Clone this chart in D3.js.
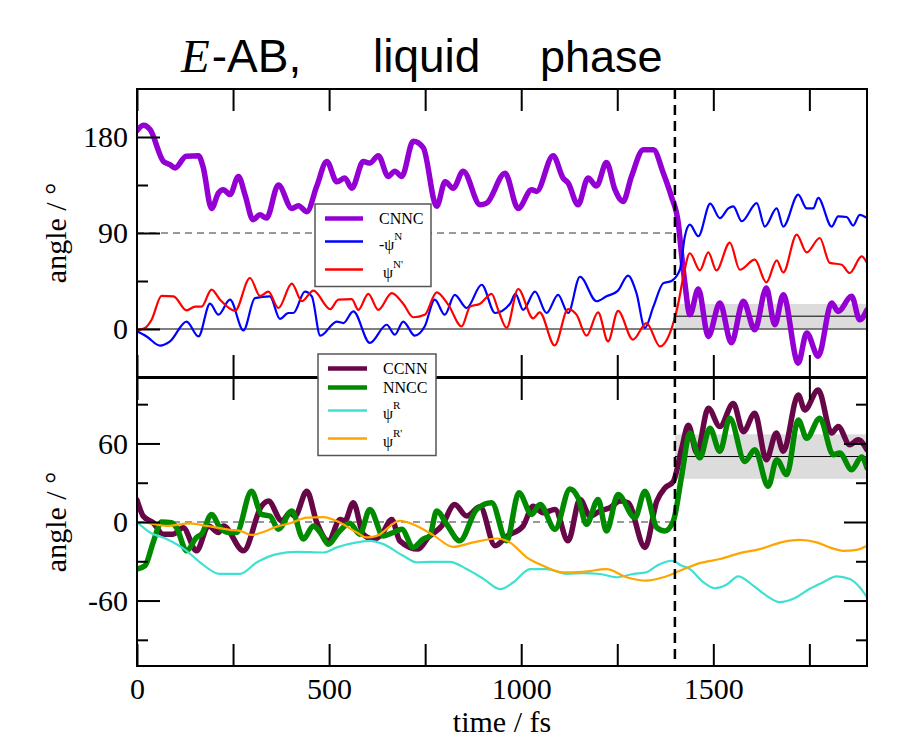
<!DOCTYPE html>
<html>
<head>
<meta charset="utf-8">
<script src="https://cdn.jsdelivr.net/npm/d3@7"></script>
<style>
  body { margin: 0; background: #fff; }
  .serif { font-family: "Liberation Serif", "Times New Roman", serif; }
  .sans  { font-family: "Liberation Sans", Arial, sans-serif; }
</style>
</head>
<body>
<svg id="chart" width="906" height="746"></svg>
<script>
// ---- time axis and reference values ----
const timeDomain = [0, 1900];
const topDomain = [-45, 225];
const botDomain = [-110, 110];
const xTickLabels = [0, 500, 1000, 1500];
const xMinorTicks = [250, 750, 1250, 1750];
const topTickLabels = [0, 90, 180];
const topMinorTicks = [45, 135];
const botTickLabels = [-60, 0, 60];
const botMinorTicks = [-90, -30, 30, 90];
const transitionTime = 1400;
const topMean = 12, topSpread = 11.5;   // CNNC average after the jump
const botMean = 50, botSpread = 17;     // CCNN/NNCC average after the jump

// ---- upper panel: [time / fs, angle / deg] ----
const cnnc = [[0,186],[17,191],[34,187],[69,157],[86,154],[99,151],[128,162],[160,162.5],[172,152],[194,113],[212,127.5],[225,130.6],[242,126],[264,143],[281,126],[302,102.5],[320,107],[337,104],[368,135],[403,113],[420,115.6],[442,110],[468,134],[494,157],[520,138],[541,141.5],[559,132],[589,157],[606,155.6],[628,162.5],[654,143],[671,148],[689,143],[719,176],[745,170],[780,115],[802,138],[823,132],[849,148],[893,116.5],[910,118],[958,146],[992,113],[1027,130.6],[1040,129],[1083,162.5],[1109,141.5],[1122,137],[1148,116.5],[1174,141.5],[1196,134],[1222,156],[1244,130.6],[1265,119.6],[1287,143],[1318,168],[1344,168],[1370,146],[1391,124],[1409,99],[1417,71],[1426,43],[1439,13.4],[1461,37.5],[1487,-7],[1517,24.4],[1547,-13],[1578,26],[1608,-0.7],[1638,38.4],[1660,4],[1682,32],[1721,-32],[1743,-3.8],[1773,-25.6],[1808,24.4],[1825,16.5],[1860,30.6],[1881,8.7],[1900,18]];
const negPsiN = [[0,-2.2],[25,-7],[60,-15.6],[86,-11.6],[129,7],[160,-7],[190,23.7],[212,13.4],[242,27.5],[277,-1.3],[307,29],[346,30.6],[372,9.4],[394,15],[407,15],[437,35],[455,30.6],[477,-6.3],[520,7],[537,5.6],[563,16.5],[606,-13],[650,4],[671,-5.3],[693,7],[723,-6.3],[749,2.5],[775,27.5],[801,13.4],[827,32],[858,19.7],[897,41.5],[932,15],[971,23.7],[985,33],[1005,18],[1036,35],[1066,15],[1096,32],[1122,15],[1153,49],[1196,26],[1222,30.6],[1252,36],[1278,50],[1300,33.7],[1322,1],[1344,21],[1370,43],[1391,45],[1413,55.6],[1426,87],[1439,97.8],[1461,87],[1492,117.5],[1517,104],[1539,113],[1552,115],[1574,101],[1613,118],[1634,96],[1665,113],[1682,96],[1721,126],[1743,113],[1760,113],[1773,123],[1808,96],[1825,105.6],[1847,105],[1864,97],[1881,107],[1900,104]];
const psiNp = [[0,-1],[21,1],[38,8.7],[64,31],[95,30.6],[129,17.5],[151,21],[168,21],[194,37],[216,27.5],[255,17],[294,47.8],[320,31],[342,35],[368,19.7],[403,42.5],[429,26],[459,36],[503,18.7],[524,27.5],[559,28],[576,18],[602,33],[628,18],[663,33.7],[693,23.7],[719,11],[749,13.4],[780,34.4],[810,22.8],[845,2.5],[867,21],[893,23.7],[923,33],[940,18],[962,1],[992,37.5],[1031,10],[1048,15.6],[1087,-15.4],[1122,18.7],[1144,13.4],[1170,-6.3],[1200,15.6],[1226,-11.6],[1252,17],[1291,-10],[1326,5.6],[1361,-16.3],[1387,-3.8],[1409,24.4],[1422,49.3],[1439,71],[1465,55],[1487,71.8],[1508,55],[1543,81],[1569,55.6],[1608,65],[1638,43.7],[1665,64.3],[1682,53],[1717,88.4],[1743,71.8],[1777,85.3],[1803,62],[1834,60.3],[1855,52.5],[1886,68],[1900,62]];

// ---- lower panel ----
const ccnn = [[0,16.7],[16,4.6],[42,-0.5],[68,-9.3],[94,-9.3],[120,-4.3],[155,-22],[186,-3],[212,-8],[225,-3],[277,-22],[324,12],[342,16],[377,0.8],[398,7],[411,4.6],[442,23.5],[468,-0.5],[498,-14.4],[529,2],[541,0.8],[563,14.7],[589,-9.3],[615,-13],[637,-9.3],[663,2],[684,-14.4],[732,-20.7],[758,-11.8],[793,-3],[827,13.4],[858,4.6],[893,11.7],[932,-18.2],[962,-11],[1005,-3],[1031,12],[1057,7],[1088,9.6],[1122,-14.4],[1153,17.2],[1179,4.6],[1205,8.4],[1231,10.9],[1257,16],[1278,14.7],[1322,-19.4],[1353,16],[1374,26],[1396,31],[1418,56.5],[1435,74],[1457,52.7],[1487,86.8],[1517,72.9],[1552,90.6],[1578,69],[1608,83],[1638,47.6],[1664,67.9],[1682,54],[1721,97],[1738,85.6],[1773,100.8],[1808,67.9],[1825,72.9],[1855,59],[1877,62.8],[1900,55.2]];
const nncc = [[0,-36],[21,-33.4],[42,-15.6],[64,0],[90,-0.5],[103,-4.3],[129,-22],[155,-11.8],[168,-9.3],[194,5.8],[216,-4.3],[238,-8],[259,-8],[298,23.5],[324,5.8],[346,4.6],[368,-5.5],[403,8.4],[433,-13],[459,-3],[477,-8],[498,-17],[524,-8],[554,-1],[580,-9.3],[606,9.6],[641,-10.6],[667,-8],[689,-5.5],[719,-19.4],[745,-13],[762,-10.6],[780,8.4],[806,-1.7],[840,-14.4],[884,9.6],[923,14.7],[962,-14.4],[994,22.3],[1027,5.8],[1049,13.4],[1088,-5.5],[1127,25.3],[1148,18.5],[1170,-1.7],[1200,17.2],[1222,-6.8],[1252,21],[1296,3.3],[1322,23.5],[1353,-4.3],[1374,-6.8],[1396,0.8],[1418,36],[1439,67.9],[1465,49],[1491,71.7],[1517,54],[1543,79.3],[1582,46.3],[1608,55.2],[1643,27.3],[1665,47.6],[1691,36.2],[1721,78],[1743,64],[1777,79.3],[1812,51.4],[1829,52.7],[1860,40],[1886,49.6],[1900,41.3]];
const psiR = [[0,0],[34,-8],[77,-13],[129,-22],[164,-30.8],[216,-39.7],[268,-39.7],[312,-30.8],[364,-24.5],[416,-22.8],[485,-23.3],[520,-19.4],[572,-15.6],[606,-14.4],[641,-16.9],[693,-25.8],[728,-30.8],[762,-30.4],[814,-30.4],[858,-35.9],[902,-43.5],[945,-51.3],[980,-46],[1023,-36],[1066,-36],[1118,-39.7],[1161,-39],[1205,-39.7],[1248,-42.2],[1291,-39.7],[1326,-38.4],[1353,-33.4],[1392,-29.6],[1418,-33.4],[1439,-36],[1474,-46],[1504,-50.6],[1534,-48],[1565,-41.5],[1604,-48.6],[1638,-56.2],[1673,-61.2],[1708,-58.7],[1751,-51],[1786,-46],[1821,-41.5],[1855,-43.5],[1881,-49.8],[1900,-57.4]];
const psiRp = [[0,0],[34,-1],[77,-3],[138,-1],[181,-3],[242,-6],[268,-6.8],[298,-9.9],[329,-7.6],[364,-3.5],[398,-1],[442,3.3],[485,3.8],[529,-0.5],[572,-8],[598,-11.8],[624,-10.6],[684,0.8],[728,-3],[771,-10],[823,-19],[875,-15.6],[936,-12.6],[971,-15.6],[1014,-27],[1057,-33.4],[1109,-38.4],[1161,-38],[1222,-36],[1274,-42.2],[1326,-44.8],[1370,-42.2],[1413,-37.2],[1465,-31.4],[1517,-28.3],[1569,-23.8],[1621,-20.7],[1682,-15.2],[1725,-13.7],[1769,-15.6],[1803,-19.4],[1838,-22],[1873,-21.3],[1900,-18.2]];

// ---- series styling ----
const topSeries = [
  { data: cnnc,    color: "#9400d3", width: 5.5, label: "CNNC", sup: "" },
  { data: negPsiN, color: "#0000ff", width: 2.2, label: "-\u03c8", sup: "N" },
  { data: psiNp,   color: "#ff0000", width: 2.2, label: "\u03c8", sup: "N'" }
];
const botSeries = [
  { data: ccnn,  color: "#670748", width: 5.5, label: "CCNN", sup: "" },
  { data: nncc,  color: "#008a00", width: 5.5, label: "NNCC", sup: "" },
  { data: psiR,  color: "#40e0d0", width: 2.2, label: "\u03c8", sup: "R" },
  { data: psiRp, color: "#ffa500", width: 2.2, label: "\u03c8", sup: "R'" }
];

// ---- layout ----
const svg = d3.select("#chart");
const plotL = 137, plotR = 867;
const topBox = { y0: 89, y1: 377 };
const botBox = { y0: 378, y1: 666 };

const x = d3.scaleLinear().domain(timeDomain).range([plotL, plotR]);
const yTop = d3.scaleLinear().domain(topDomain).range([topBox.y1, topBox.y0]);
const yBot = d3.scaleLinear().domain(botDomain).range([botBox.y1, botBox.y0]);
const plainNumber = d => String(d);   // ASCII hyphen for negative labels

const defs = svg.append("defs");
function clip(id, box) {
  defs.append("clipPath").attr("id", id)
    .append("rect").attr("x", plotL).attr("y", box.y0)
    .attr("width", plotR - plotL).attr("height", box.y1 - box.y0);
}
clip("clipTop", topBox);
clip("clipBot", botBox);

// ---- title ----
const title = svg.append("g");
const tE = title.append("text").attr("class", "serif")
  .attr("x", 181).attr("y", 72).attr("font-size", 47).attr("font-style", "italic")
  .text("E");
title.append("text").attr("class", "sans")
  .attr("x", 181 + tE.node().getComputedTextLength() + 2).attr("y", 72).attr("font-size", 46)
  .text("-AB,");
title.append("text").attr("class", "sans").attr("x", 373).attr("y", 72).attr("font-size", 46).text("liquid");
title.append("text").attr("class", "sans").attr("x", 540).attr("y", 72).attr("font-size", 45).text("phase");

// ---- panel contents ----
function drawPanel(box, y, series, clipId, mean, spread, refLines) {
  const g = svg.append("g").attr("clip-path", `url(#${clipId})`);
  // spread band and mean after the transition
  g.append("rect")
    .attr("x", x(transitionTime)).attr("width", x(timeDomain[1]) - x(transitionTime))
    .attr("y", y(mean + spread)).attr("height", y(mean - spread) - y(mean + spread))
    .attr("fill", "#dcdcdc");
  g.append("line")
    .attr("x1", x(transitionTime)).attr("x2", x(timeDomain[1]))
    .attr("y1", y(mean)).attr("y2", y(mean))
    .attr("stroke", "#000").attr("stroke-width", 1);
  refLines.forEach(r => {
    g.append("line")
      .attr("x1", x(r.from)).attr("x2", x(r.to))
      .attr("y1", y(r.value)).attr("y2", y(r.value))
      .attr("stroke", r.dashed ? "#333" : "#000").attr("stroke-width", 1)
      .attr("stroke-dasharray", r.dashed ? "7,5" : null);
  });
  const line = d3.line().x(d => x(d[0])).y(d => y(d[1])).curve(d3.curveMonotoneX);
  series.forEach(s => {
    g.append("path").attr("d", line(s.data))
      .attr("fill", "none").attr("stroke", s.color)
      .attr("stroke-width", s.width).attr("stroke-linejoin", "round").attr("stroke-linecap", "round");
  });
}
drawPanel(topBox, yTop, topSeries, "clipTop", topMean, topSpread, [
  { value: 0, from: timeDomain[0], to: timeDomain[1], dashed: false },
  { value: 90, from: timeDomain[0], to: transitionTime, dashed: true }
]);
drawPanel(botBox, yBot, botSeries, "clipBot", botMean, botSpread, [
  { value: 0, from: timeDomain[0], to: transitionTime, dashed: true }
]);

// ---- axes ----
function styleAxis(g) {
  g.select(".domain").remove();
  g.selectAll(".tick line").attr("stroke", "#000").attr("stroke-width", 2);
  g.selectAll(".tick text").attr("class", "serif").attr("font-size", 30).attr("fill", "#000");
}
function xAxes(box, labelled) {
  svg.append("g").attr("transform", `translate(0,${box.y0})`)
    .call(d3.axisTop(x).tickValues(xTickLabels.concat(xMinorTicks)).tickSize(-22).tickFormat("")).call(styleAxis);
  svg.append("g").attr("transform", `translate(0,${box.y1})`)
    .call(d3.axisBottom(x).tickValues(xMinorTicks).tickSize(-22).tickFormat("")).call(styleAxis);
  svg.append("g").attr("transform", `translate(0,${box.y1})`)
    .call(d3.axisBottom(x).tickValues(xTickLabels).tickSize(-22).tickPadding(12)
      .tickFormat(labelled ? plainNumber : "")).call(styleAxis);
}
xAxes(topBox, false);
xAxes(botBox, true);

function yAxes(y, majors, minors, rightSide) {
  svg.append("g").attr("transform", `translate(${plotL},0)`)
    .call(d3.axisLeft(y).tickValues(majors).tickSize(-23).tickPadding(9).tickFormat(plainNumber)).call(styleAxis);
  svg.append("g").attr("transform", `translate(${plotL},0)`)
    .call(d3.axisLeft(y).tickValues(minors).tickSize(-11).tickFormat("")).call(styleAxis);
  if (rightSide) {
    svg.append("g").attr("transform", `translate(${plotR},0)`)
      .call(d3.axisRight(y).tickValues(majors).tickSize(-23).tickFormat("")).call(styleAxis);
    svg.append("g").attr("transform", `translate(${plotR},0)`)
      .call(d3.axisRight(y).tickValues(minors).tickSize(-11).tickFormat("")).call(styleAxis);
  }
}
yAxes(yTop, topTickLabels, topMinorTicks, false);
yAxes(yBot, botTickLabels, botMinorTicks, true);

// frames
[topBox, botBox].forEach(b => {
  svg.append("rect").attr("x", plotL).attr("y", b.y0)
    .attr("width", plotR - plotL).attr("height", b.y1 - b.y0)
    .attr("fill", "none").attr("stroke", "#000").attr("stroke-width", 2);
});

// transition marker
svg.append("line")
  .attr("x1", x(transitionTime)).attr("x2", x(transitionTime))
  .attr("y1", topBox.y0).attr("y2", botBox.y1)
  .attr("stroke", "#000").attr("stroke-width", 2.5).attr("stroke-dasharray", "10,6");

// axis titles
svg.append("text").attr("class", "serif").attr("font-size", 30)
  .attr("x", (plotL + plotR) / 2).attr("y", 732).attr("text-anchor", "middle")
  .text("time / fs");
[[topBox, "angle / \u00b0"], [botBox, "angle / \u00b0"]].forEach(([b, t]) => {
  const cy = (b.y0 + b.y1) / 2;
  svg.append("text").attr("class", "serif").attr("font-size", 30)
    .attr("transform", `translate(66,${cy}) rotate(-90)`)
    .attr("text-anchor", "middle").text(t);
});

// ---- legends ----
function legend(left, top, width, lineX0, lineX1, textX, series) {
  const g = svg.append("g");
  const rect = g.append("rect").attr("x", left).attr("y", top).attr("width", width)
    .attr("fill", "#fff").attr("stroke", "#555").attr("stroke-width", 1.5);
  let rowY = top + 14.5;
  series.forEach((s, i) => {
    if (i > 0) {
      rowY += 19 + (s.sup ? 4 : 0) + (s.sup.includes("'") ? 5 : 0);
    }
    g.append("line").attr("x1", lineX0).attr("x2", lineX1).attr("y1", rowY).attr("y2", rowY)
      .attr("stroke", s.color).attr("stroke-width", s.width >= 5 ? 4.5 : 2.4);
    const t = g.append("text").attr("class", "serif").attr("font-size", 16)
      .attr("x", textX + (s.sup.includes("'") && i > 0 && series.length === 3 ? 4 : 0))
      .attr("y", rowY + (s.sup ? 8 : 5.5));
    t.append("tspan").text(s.label);
    if (s.sup) t.append("tspan").attr("font-size", 11).attr("dy", -10).text(s.sup);
  });
  rect.attr("height", rowY - top + 17);
}
legend(315, 204, 116, 325, 363, 379, topSeries);
legend(318, 354, 118, 328, 367, 383, botSeries);
</script>
</body>
</html>
